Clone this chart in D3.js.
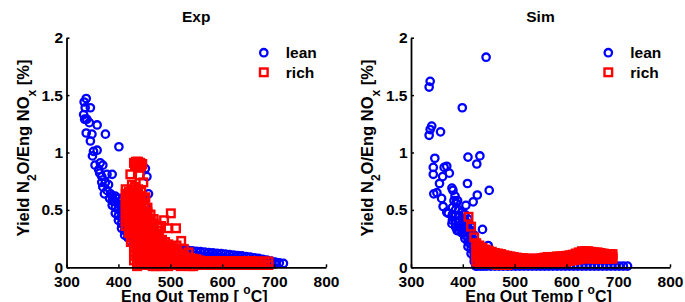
<!DOCTYPE html>
<html>
<head>
<meta charset="utf-8">
<script src="https://cdn.jsdelivr.net/npm/d3@7"></script>
<style>
  body { margin: 0; background: #fff; }
  svg text { font-family: "Liberation Sans", Arial, sans-serif; font-weight: bold; fill: #000; }
</style>
</head>
<body>
<div id="chart"></div>
<script>
// axis ticks and legend
const xTicks = [300, 400, 500, 600, 700, 800];
const yTicks = [0, 0.5, 1, 1.5, 2];
const seriesNames = ["lean", "rich"];
const panelTitles = ["Exp", "Sim"];

// Exp lean: scattered points [temp, yield]
const expLeanPts = [
  [338,1.47],[334,1.44],[336,1.39],[346,1.39],[333,1.33],[339,1.29],[335,1.29],[344,1.26],
  [359,1.24],[375,1.16],[338,1.17],[349,1.16],[346,1.10],[401,1.05],[352,1.01],[359,1.02],
  [350,0.97],[355,0.89],[365,0.91],[370,0.89],[362,0.85],[368,0.79],[378,0.81],[388,0.81],
  [370,0.70],[378,0.67],[385,0.64],[391,0.58],[452,0.86],[455,0.79],[458,0.64],[364,0.82],
  [368,0.74],[375,0.74],[381,0.72],[373,0.64],[383,0.60]
];
// Exp lean: dense part, columns of [temp, yields...]
const expLeanCols = [
  [388,.62,.58,.54],
  [394,.62,.57,.52,.47],
  [400,.60,.55,.50,.45,.41],
  [406,.58,.53,.48,.43,.38,.34],
  [412,.62,.57,.52,.47,.42,.37,.32,.28],
  [418,.64,.59,.54,.49,.44,.39,.34,.30,.26],
  [424,.66,.60,.55,.50,.45,.40,.35,.30,.26,.22],
  [430,.62,.56,.50,.44,.38,.33,.28,.24,.20],
  [436,.60,.54,.48,.42,.36,.31,.26,.22,.18],
  [442,.62,.55,.48,.42,.36,.30,.25,.21],
  [448,.58,.50,.44,.38,.32,.27,.23],
  [454,.52,.46,.40,.34,.29,.25,.21],
  [462,.40,.34,.28,.24,.21,.18],
  [470,.20,.165,.13],[478,.19,.155,.12],[486,.18,.145,.11],[494,.17,.135,.10],[502,.165,.13,.095],
  [510,.16,.125,.09],[518,.155,.12,.085],[526,.15,.115,.08],[534,.147,.11,.075],[542,.144,.11,.075],
  [550,.14,.105,.07],[558,.136,.10,.07],[566,.132,.098,.065],[574,.128,.095,.06],[582,.125,.092,.06],
  [590,.122,.09,.055],[598,.119,.087,.055],[606,.115,.083,.05],[614,.111,.079,.05],[622,.107,.075,.045],
  [630,.103,.071,.045],[638,.099,.067,.04],[646,.094,.062,.04],[654,.089,.057,.035],[662,.083,.052,.03],
  [670,.077,.047,.03],[678,.07,.043],[686,.062,.038],[694,.053,.034],[702,.045,.03],
  [710,.038],[718,.034]
];

// Exp rich
const expRichPts = [
  [430,.91],[434,.92],[438,.92],[442,.91],[446,.90],[432,.89],[440,.88],[436,.90],[444,.88],
  [423,.81],[441,.80],[414,.68],[426,.72],[432,.70],[452,.61],[418,.58],[422,.48],[448,.74],
  [488,.41],[501,.47],[495,.34],[511,.34],[521,.23],[535,.13],[512,.19],[526,.16],[482,.36]
];
const expRichCols = [
  [414,.64,.60,.56,.52,.48,.44,.40,.36],
  [420,.66,.62,.58,.54,.50,.46,.42,.38,.34,.30],
  [426,.66,.62,.58,.54,.50,.46,.42,.38,.34,.30],
  [432,.68,.64,.60,.56,.52,.48,.44,.40,.36,.32],
  [438,.68,.64,.60,.56,.52,.48,.44,.40,.36,.32],
  [444,.66,.62,.58,.54,.50,.46,.42,.38,.34,.30],
  [450,.60,.56,.52,.48,.44,.40,.36,.32,.28],
  [456,.52,.48,.44,.40,.36,.32,.28],
  [462,.46,.42,.38,.34,.30],
  [468,.42,.38,.34,.30],
  [476,.36,.32,.28],
  [424,.26,.22],
  [430,.26,.22,.18,.14,.10,.06],
  [436,.28,.24,.20,.16,.12,.08,.04,.01],
  [442,.26,.22,.18,.14,.10,.06,.02],
  [448,.26,.22,.18,.14,.10,.06,.02],
  [454,.26,.22,.18,.14,.10,.06,.02],
  [460,.27,.23,.19,.15,.11,.07,.03],
  [466,.28,.24,.20,.16,.12,.08,.04,.01],
  [472,.28,.24,.20,.16,.12,.08,.04,.01],
  [478,.27,.23,.19,.15,.11,.07,.03],
  [484,.24,.20,.16,.12,.08,.04,.01],
  [490,.22,.18,.14,.10,.06,.02],
  [496,.20,.16,.12,.08,.04,.01],
  [502,.18,.14,.10,.06,.02],
  [508,.15,.11,.07,.03],
  [514,.13,.09,.055,.02],
  [520,.115,.08,.045,.01],
  [526,.10,.065,.03],
  [532,.085,.05,.02],
  [538,.08,.045,.01],
  [544,.075,.04,.01],
  [550,.07,.035],[556,.06,.025],[562,.055,.02],[568,.055,.02],[574,.055,.02],[580,.055,.02],
  [586,.055,.02],[592,.055,.02],[598,.055,.02],[604,.055,.02],[610,.055,.02],[616,.055,.02],
  [622,.055,.02],[628,.055,.02],[634,.055,.02],[640,.055,.02],[646,.055,.02],[652,.055,.02],
  [658,.055,.02],[664,.05,.02],[670,.05,.02],[676,.05,.02],[682,.05,.02],[689,.05,.02]
];

// Sim lean
const simLeanPts = [
  [445,1.83],[337,1.62],[335,1.57],[399,1.39],[340,1.23],[337,1.20],[335,1.15],[357,1.18],
  [410,.96],[433,.97],[427,.90],[346,.95],[343,.87],[369,.88],[374,.82],[343,.81],[361,.79],
  [355,.73],[409,.73],[451,.67],[428,.63],[420,.57],[379,.69],[350,.65],[359,.60],[362,.53],
  [369,.48],[379,.38],[389,.32],[438,.33],[449,.19],[425,.01],[406,.54],[385,.62],[387,.56],
  [364,.87],[344,.64],[372,.47],[390,.58],[381,.67],[383,.58]
];
const simLeanCols = [
  [380,.52,.46,.41],
  [386,.50,.45,.40,.35],
  [392,.50,.45,.40,.36,.32],
  [398,.48,.43,.38,.34,.30],
  [404,.46,.41,.36,.32,.28,.25],
  [410,.42,.38,.34,.30,.26,.22,.18],
  [416,.36,.32,.28,.24,.20,.16,.12],
  [422,.28,.24,.20,.16,.12,.08,.05],
  [428,.18,.14,.10,.07,.04,.01],
  [434,.10,.07,.04,.01],
  [440,.06,.03,.01],
  [446,.04,.01],
  [454,.01],[462,.01],[470,.01],[478,.01],[486,.01],[494,.01],[502,.01],[510,.01],[518,.01],
  [526,.01],[534,.01],[542,.01],[550,.01],[558,.01],[566,.01],[574,.01],[582,.01],[590,.01],
  [598,.01],[606,.01],[614,.01],[622,.01],[630,.01],[638,.01],[646,.01],[654,.01],[662,.01],
  [670,.01],[678,.01],[686,.01],[694,.01],[702,.01],[710,.01],[718,.01]
];

// Sim rich
const simRichPts = [[411,.44],[416,.354],[422,.261]];
const simRichCols = [
  [426,.21,.17,.13,.09,.05],
  [432,.19,.15,.11,.07,.035],
  [438,.17,.135,.10,.065,.03],
  [444,.155,.12,.085,.05],
  [450,.145,.11,.075,.04],
  [456,.135,.10,.065,.03],
  [462,.125,.09,.055,.025],
  [468,.12,.085,.05,.02],
  [474,.115,.08,.045,.02],
  [480,.105,.075,.045,.02],
  [486,.10,.07,.04,.02],
  [492,.095,.065,.035],
  [498,.09,.06,.035],
  [504,.085,.055,.03],
  [510,.08,.05,.03],
  [516,.08,.05,.03],
  [522,.075,.05,.03],
  [528,.075,.05,.03],
  [534,.075,.05,.035],
  [540,.075,.05,.035],
  [546,.075,.05,.035],
  [552,.08,.055,.04],
  [558,.085,.06,.04],
  [564,.09,.065,.045],
  [570,.09,.065,.045],
  [576,.09,.065,.045],
  [582,.095,.07,.05],
  [588,.095,.07,.05],
  [594,.095,.07,.05],
  [600,.10,.075,.05],
  [606,.105,.08,.055],
  [612,.11,.085,.06],
  [618,.12,.09,.065],
  [624,.13,.10,.07],
  [630,.14,.11,.075],
  [636,.14,.11,.08],
  [642,.14,.11,.08],
  [648,.135,.105,.075],
  [654,.13,.10,.075],
  [660,.13,.10,.075],
  [666,.125,.10,.075],
  [672,.12,.095,.075],
  [678,.115,.09,.075],
  [684,.115,.09,.075],
  [689,.115,.09,.075]
];

// unpack [temp, y1, y2...] columns into [temp, y] points
const unpack = cols => cols.flatMap(c => c.slice(1).map(v => [c[0], v]));

const width = 685, height = 302;
const blue = "#0000ff", red = "#ff0000";
const circleR = 3.7, circleW = 2.3, squareS = 7.6, squareW = 2.4;

const svg = d3.select("#chart").append("svg")
    .attr("width", width)
    .attr("height", height)
    .attr("font-weight", "bold");

function drawPanel(x0, x1, title, lean, rich) {
  const x = d3.scaleLinear().domain([300, 800]).range([x0, x1]);
  const y = d3.scaleLinear().domain([0, 2]).range([267.3, 37.7]);
  const g = svg.append("g");

  // markers first so axes sit on top
  g.append("g").selectAll("circle")
    .data(lean)
    .enter().append("circle")
    .attr("cx", d => x(d[0]))
    .attr("cy", d => y(d[1]))
    .attr("r", circleR)
    .attr("fill", "none")
    .attr("stroke", blue)
    .attr("stroke-width", circleW);

  g.append("g").selectAll("rect")
    .data(rich)
    .enter().append("rect")
    .attr("x", d => x(d[0]) - squareS / 2)
    .attr("y", d => y(d[1]) - squareS / 2)
    .attr("width", squareS)
    .attr("height", squareS)
    .attr("fill", "none")
    .attr("stroke", red)
    .attr("stroke-width", squareW);

  // axes (MATLAB style: inward ticks, left and bottom only)
  const xAxis = g.append("g")
    .attr("transform", `translate(0,${y(0)})`)
    .call(d3.axisBottom(x).tickValues(xTicks).tickSizeInner(-3).tickSizeOuter(0).tickPadding(8.5).tickFormat(d3.format("d")));
  const yAxis = g.append("g")
    .attr("transform", `translate(${x0},0)`)
    .call(d3.axisLeft(y).tickValues(yTicks).tickSizeInner(-3).tickSizeOuter(0).tickPadding(3.5).tickFormat(d => String(d)));
  [xAxis, yAxis].forEach(a => {
    a.attr("font-family", null).attr("font-size", null);
    a.select(".domain").attr("stroke", "#000").attr("stroke-width", 1.8);
    a.selectAll(".tick line").attr("stroke", "#000").attr("stroke-width", 1.5);
    a.selectAll("text").attr("font-size", 15.5).attr("font-weight", "bold").attr("fill", "#000");
  });

  // title
  g.append("text")
    .attr("x", (x0 + x1) / 2)
    .attr("y", 22)
    .attr("text-anchor", "middle")
    .attr("font-size", 15.5)
    .text(title);

  // x label with superscript
  const xl = g.append("text")
    .attr("x", (x0 + x1) / 2 - 2)
    .attr("y", 301.5)
    .attr("text-anchor", "middle")
    .attr("font-size", 16);
  xl.append("tspan").text("Eng Out Temp [ ");
  xl.append("tspan").attr("font-size", 12).attr("dy", -8).text("o");
  xl.append("tspan").attr("dy", 8).text("C]");

  // y label with subscripts
  const yl = g.append("text")
    .attr("transform", `translate(${x0 - 38},148) rotate(-90)`)
    .attr("text-anchor", "middle")
    .attr("font-size", 16.5);
  yl.append("tspan").text("Yield N");
  yl.append("tspan").attr("font-size", 12).attr("dy", 7).text("2");
  yl.append("tspan").attr("dy", -7).text("O/Eng NO");
  yl.append("tspan").attr("font-size", 12).attr("dy", 7).text("x");
  yl.append("tspan").attr("dy", -7).text(" [%]");

  // legend
  const lx = x0 + 197.3;
  g.append("circle")
    .attr("cx", lx).attr("cy", 52.7).attr("r", circleR)
    .attr("fill", "none").attr("stroke", blue).attr("stroke-width", circleW);
  g.append("rect")
    .attr("x", lx - squareS / 2).attr("y", 72.3 - squareS / 2).attr("width", squareS).attr("height", squareS)
    .attr("fill", "none").attr("stroke", red).attr("stroke-width", squareW);
  g.append("text").attr("x", lx + 22).attr("y", 58).attr("font-size", 15.5).text(seriesNames[0]);
  g.append("text").attr("x", lx + 22).attr("y", 78).attr("font-size", 15.5).text(seriesNames[1]);
}

drawPanel(66.5, 326, panelTitles[0],
  expLeanPts.concat(unpack(expLeanCols)), expRichPts.concat(unpack(expRichCols)));
drawPanel(411, 670, panelTitles[1],
  simLeanPts.concat(unpack(simLeanCols)), simRichPts.concat(unpack(simRichCols)));
</script>
</body>
</html>
